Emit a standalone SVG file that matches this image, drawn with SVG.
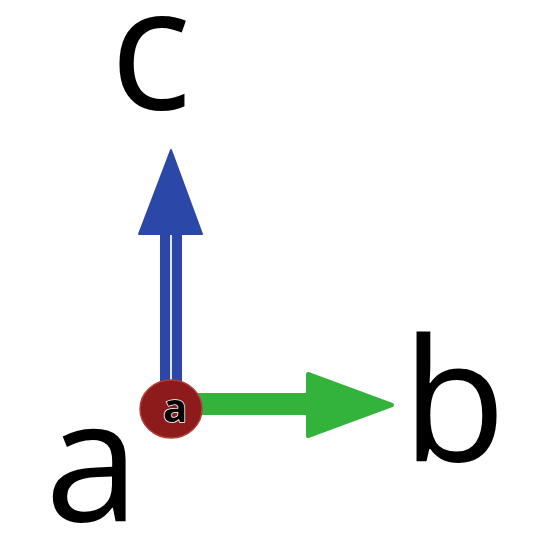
<svg xmlns="http://www.w3.org/2000/svg" width="534" height="549" viewBox="0 0 534 549">
<style>
.big{font-family:"Open Sans","Liberation Sans",sans-serif;font-size:170px;fill:#000}
.blue{fill:#2b47a8}
.green{fill:#33b33c}
.small{font-family:"Open Sans","Liberation Sans",sans-serif;font-size:40px;font-weight:bold;fill:#000;stroke:#fff;stroke-width:1.5;paint-order:stroke}
</style>
<rect width="534" height="549" fill="#fff"/>
<g id="connectors">
  <g id="arrow-c">
    <rect class="blue" x="160" y="230" width="22" height="160"/>
    <rect x="170" y="234" width="2" height="150" fill="#dfe6f7"/>
    <polygon class="blue" points="171,150 202,234 139,234" stroke="#2b47a8" stroke-width="2" stroke-linejoin="round"/>
  </g>
  <g id="arrow-b">
    <rect class="green" x="195" y="393" width="117" height="22"/>
    <polygon class="green" points="308,374 392,405 308,436" stroke="#33b33c" stroke-width="4" stroke-linejoin="round"/>
  </g>
</g>
<g id="node-origin">
  <ellipse cx="171" cy="409" rx="31" ry="29" fill="#8e1b1b" stroke="#b2403a" stroke-width="1.5"/>
  <text class="small" x="175" y="422" text-anchor="middle">a</text>
</g>
<g id="label-c"><text class="big" x="110" y="109">c</text></g>
<g id="label-b"><text class="big" x="402" y="461">b</text></g>
<g id="label-a"><text class="big" x="45" y="521" font-size="165">a</text></g>
</svg>
